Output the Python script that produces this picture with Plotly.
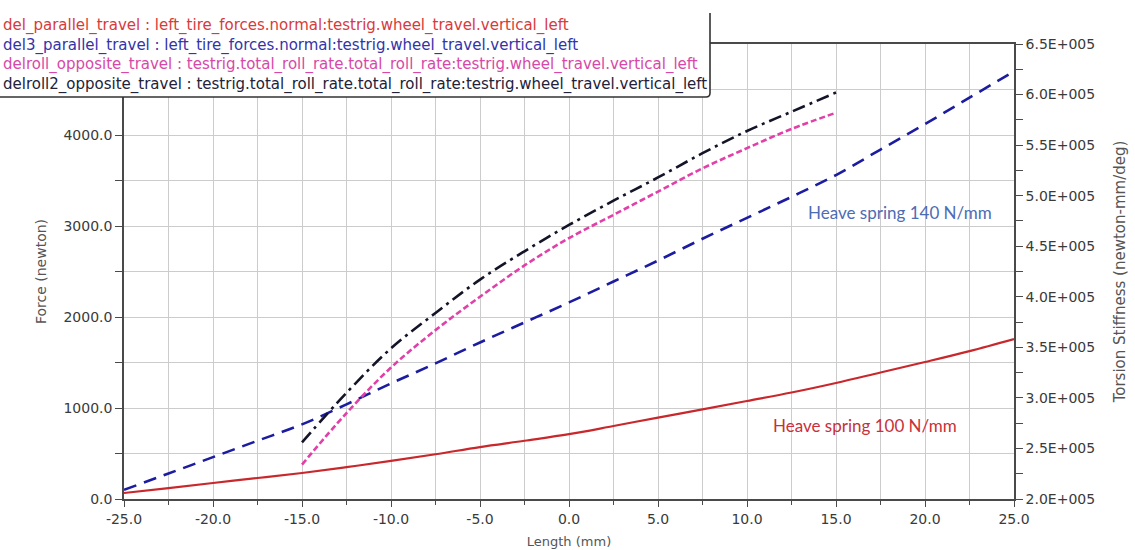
import plotly.graph_objects as go

# ---------------- data ----------------
travel_x = [-25.0, -22.5, -20.0, -17.5, -15.0, -12.5, -10.0, -7.5, -5.0, -2.5, 0.0,
            2.5, 5.0, 7.5, 10.0, 12.5, 15.0, 17.5, 20.0, 22.5, 25.0]
del_parallel = [66, 120, 176, 231, 286, 350, 418, 492, 571, 640, 712,
                802, 895, 985, 1077, 1170, 1275, 1390, 1505, 1625, 1758]
del3_parallel = [100, 280, 460, 640, 820, 1040, 1270, 1490, 1720, 1940, 2160,
                 2390, 2620, 2860, 3090, 3320, 3560, 3840, 4120, 4410, 4700]

roll_x = [-15.0, -12.5, -10.0, -7.5, -5.0, -2.5, 0.0, 2.5, 5.0, 7.5, 10.0, 12.5, 15.0]
delroll = [2.34e5, 2.85e5, 3.30e5, 3.67e5, 4.00e5, 4.31e5, 4.58e5,
           4.81e5, 5.04e5, 5.27e5, 5.47e5, 5.66e5, 5.82e5]
delroll2 = [2.56e5, 3.05e5, 3.49e5, 3.84e5, 4.17e5, 4.45e5, 4.71e5,
            4.95e5, 5.18e5, 5.42e5, 5.64e5, 5.83e5, 6.02e5]

series_names = [
    "del_parallel_travel : left_tire_forces.normal:testrig.wheel_travel.vertical_left",
    "del3_parallel_travel : left_tire_forces.normal:testrig.wheel_travel.vertical_left",
    "delroll_opposite_travel : testrig.total_roll_rate.total_roll_rate:testrig.wheel_travel.vertical_left",
    "delroll2_opposite_travel : testrig.total_roll_rate.total_roll_rate:testrig.wheel_travel.vertical_left",
]
left_ticks = [0, 1000, 2000, 3000, 4000]
left_labels = [f"{v:.1f}" for v in left_ticks]
right_ticks = [2.0e5, 2.5e5, 3.0e5, 3.5e5, 4.0e5, 4.5e5, 5.0e5, 5.5e5, 6.0e5, 6.5e5]
right_labels = [f"{v/1e5:.1f}E+005" for v in right_ticks]
x_ticks = [-25, -20, -15, -10, -5, 0, 5, 10, 15, 20, 25]
x_labels = [f"{v:.1f}" for v in x_ticks]

# ---------------- layout geometry ----------------
W, H = 1135, 550
L, R, T, B = 124, 1014, 44, 499


def px_x(p):
    return (p - L) / (R - L)


def px_y(p):
    return (B - p) / (B - T)


RED = "#c8282c"
BLUE = "#1c1ca0"
PINK = "#e040a8"
BLACK = "#141428"
legend_colors = ["#d83a3c", "#3434a8", "#d848a8", "#22223a"]

fig = go.Figure()
fig.add_trace(go.Scatter(x=travel_x, y=del_parallel, mode="lines", name=series_names[0],
                         line=dict(color=RED, width=2.2, shape="spline")))
fig.add_trace(go.Scatter(x=travel_x, y=del3_parallel, mode="lines", name=series_names[1],
                         line=dict(color=BLUE, width=2.6, dash="13px,8px", shape="spline")))
fig.add_trace(go.Scatter(x=roll_x, y=delroll, mode="lines", name=series_names[2], yaxis="y2",
                         line=dict(color=PINK, width=2.6, dash="6px,3px", shape="spline")))
fig.add_trace(go.Scatter(x=roll_x, y=delroll2, mode="lines", name=series_names[3], yaxis="y2",
                         line=dict(color=BLACK, width=2.6, dash="13px,5px,3px,5px", shape="spline")))

tickfont = dict(family="DejaVu Sans, Arial", size=14, color="#3a3a3a")
titlefont = dict(family="DejaVu Sans, Arial", size=14, color="#555555")
GRID = "#cccccc"
AX = "#4a4a4a"

fig.update_layout(
    width=W, height=H,
    margin=dict(l=L, r=W - R, t=T, b=H - B),
    paper_bgcolor="white", plot_bgcolor="white",
    showlegend=False,
    xaxis=dict(range=[-25, 25], tickvals=x_ticks, ticktext=x_labels, automargin=False,
               showgrid=True, gridcolor=GRID, gridwidth=1,
               showline=True, linecolor=AX, linewidth=1.5, mirror=True,
               ticks="outside", ticklen=6, tickcolor=AX, tickfont=tickfont,
               minor=dict(dtick=2.5, showgrid=True, gridcolor=GRID, ticks="outside",
                          ticklen=4, tickcolor=AX),
               zeroline=False,
               title=dict(text="Length (mm)", font=dict(family="DejaVu Sans, Arial", size=13,
                                                        color="#555555"), standoff=11)),
    yaxis=dict(range=[0, 5000], tickvals=left_ticks, ticktext=left_labels, automargin=False,
               showgrid=True, gridcolor=GRID, gridwidth=1,
               showline=True, linecolor=AX, linewidth=1.5,
               ticks="outside", ticklen=7, tickcolor=AX, tickfont=tickfont,
               minor=dict(dtick=500, showgrid=True, gridcolor=GRID, ticks="outside",
                          ticklen=7, tickcolor=AX),
               zeroline=False,
               title=dict(text="Force (newton)", font=titlefont, standoff=14)),
    yaxis2=dict(range=[2.0e5, 6.5e5], overlaying="y", side="right", automargin=False,
                tickvals=right_ticks, ticktext=right_labels,
                showgrid=False, showline=True, linecolor=AX, linewidth=1.5,
                ticks="outside", ticklen=7, tickcolor=AX, tickfont=tickfont,
                minor=dict(dtick=0.25e5, ticks="outside", ticklen=7, tickcolor=AX),
                zeroline=False,
                title=dict(text="Torsion Stiffness (newton-mm/deg)",
                           font=dict(family="DejaVu Sans, Arial", size=15, color="#555555"),
                           standoff=20)),
)

# legend box drawn over the plot (top-left): white panel + right/bottom border
fig.add_shape(type="rect", xref="paper", yref="paper",
              x0=px_x(-20), x1=px_x(710), y0=px_y(97), y1=px_y(12),
              fillcolor="white", line=dict(width=0), layer="above")
fig.add_shape(type="path", xref="paper", yref="paper",
              path=(f"M {px_x(-20)},{px_y(97)} L {px_x(706)},{px_y(97)} "
                    f"Q {px_x(710)},{px_y(97)} {px_x(710)},{px_y(93)} L {px_x(710)},{px_y(13)}"),
              line=dict(color="#333333", width=1.6), layer="above")
legend_text = "<br>".join(
    f"<span style='color:{col}'>{name}</span>" for name, col in zip(series_names, legend_colors)
)
fig.add_annotation(text=legend_text, xref="paper", yref="paper", x=px_x(1), y=px_y(54.5),
                   xanchor="left", yanchor="middle", align="left", showarrow=False,
                   font=dict(family="DejaVu Sans, Arial", size=15, color=legend_colors[0]))

fig.add_annotation(text="Heave spring 140 N/mm", x=px_x(900), y=px_y(212), xref="paper", yref="paper",
                   xanchor="center", yanchor="middle",
                   showarrow=False, font=dict(family="Lato", size=17, color="#4c6cb4"))
fig.add_annotation(text="Heave spring 100 N/mm", x=px_x(865), y=px_y(425), xref="paper", yref="paper",
                   xanchor="center", yanchor="middle",
                   showarrow=False, font=dict(family="Lato", size=17, color="#c8303a"))

fig.write_html("out.html", config={"displayModeBar": False},
               post_script="document.body.style.margin='0';")
